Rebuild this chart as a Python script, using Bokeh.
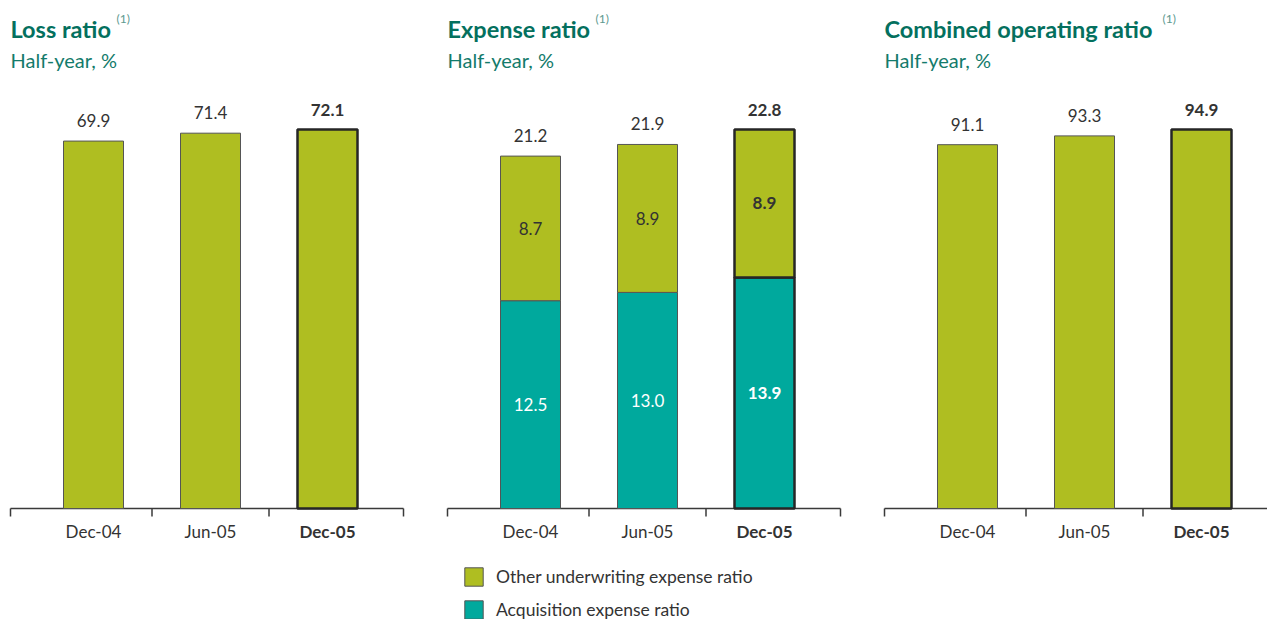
from bokeh.plotting import figure
from bokeh.models import (Range1d, ColumnDataSource, LabelSet, Label, Legend, LegendItem)
from bokeh.core.properties import value
from bokeh.layouts import row
from bokeh.embed import file_html
from bokeh.resources import INLINE

# ---------------- data ----------------
periods = ["Dec-04", "Jun-05", "Dec-05"]
loss_ratio = [69.9, 71.4, 72.1]
acquisition_ratio = [12.5, 13.0, 13.9]
other_uw_ratio = [8.7, 8.9, 8.9]
expense_ratio = [21.2, 21.9, 22.8]
combined_ratio = [91.1, 93.3, 94.9]
titles = ["Loss ratio", "Expense ratio", "Combined operating ratio"]
subtitle = "Half-year, %"
footnote = "(1)"
legend_labels = ["Other underwriting expense ratio", "Acquisition expense ratio"]

# ---------------- style ----------------
FONT = "Lato"
GREEN = "#AFBE21"
TEAL = "#00A99D"
TITLE_C = "#04705E"
SUB_C = "#137B6B"
NOTE_C = "#5E9A90"
TXT = "#333333"
AX_C = "#3a3a3a"
H = 619
BASE = 508            # page y of the zero line
BAND = 117.0          # px per category
AX_LEFT = 10.0        # px from figure left to axis start
LEFT_PAD = 83.0       # px from axis start to first bar centre
RIGHT_PAD = 76.0      # px from last bar centre to axis end
BAR_W = 60.0 / BAND
TOP_PX = 379.0        # px height of the tallest bar
TXT_SHIFT = 9         # correction for screen-unit labels

n = len(periods)
xs = list(range(n))
styles = ["normal"] * (n - 1) + ["bold"]
line_cols = ["#555555"] * (n - 1) + ["#262626"]
line_ws = [1.0] * (n - 1) + [2.5]


def make_fig(title, fig_w, vmax, note_dx):
    ppu = TOP_PX / vmax
    x0 = -(AX_LEFT + LEFT_PAD) / BAND
    x1 = x0 + fig_w / BAND
    p = figure(width=fig_w, height=H,
               x_range=Range1d(x0, x1),
               y_range=Range1d(-(H - BASE) / ppu, BASE / ppu),
               output_backend="svg", toolbar_location=None,
               x_axis_location=None, y_axis_location=None,
               min_border=0)
    p.outline_line_color = None
    p.grid.visible = False
    p.background_fill_color = "white"
    p.border_fill_color = "white"

    # category axis: base line and boundary ticks
    ax0 = -LEFT_PAD / BAND
    ax1 = (n - 1) + RIGHT_PAD / BAND
    p.segment(x0=[ax0], y0=[0], x1=[ax1], y1=[0], line_color=AX_C, line_width=1.5)
    tick_x = [ax0] + [i + 0.5 for i in range(n - 1)] + [ax1]
    p.segment(x0=tick_x, y0=[0] * len(tick_x), x1=tick_x,
              y1=[-8 / ppu] * len(tick_x), line_color=AX_C, line_width=1.5)

    cat_src = ColumnDataSource(dict(x=xs, zero=[0] * n, lab=periods, style=styles))
    p.add_layout(LabelSet(x="x", y="zero", text="lab", source=cat_src, y_offset=-23,
                          text_align="center", text_baseline="middle",
                          text_font=value(FONT), text_font_size=value("17px"),
                          text_font_style="style", text_color=value(TXT)))

    p.add_layout(Label(x=AX_LEFT, y=H - 37 + TXT_SHIFT, x_units="screen", y_units="screen",
                       text=title, text_font=FONT, text_font_size="23.5px",
                       text_font_style="bold",
                       text_color=TITLE_C, text_baseline="alphabetic"))
    p.add_layout(Label(x=note_dx, y=H - 27 + TXT_SHIFT, x_units="screen", y_units="screen",
                       text=footnote, text_font=FONT, text_font_size="12px",
                       text_color=NOTE_C, text_baseline="alphabetic"))
    p.add_layout(Label(x=AX_LEFT, y=H - 68 + TXT_SHIFT, x_units="screen", y_units="screen",
                       text=subtitle, text_font=FONT, text_font_size="20px",
                       text_color=SUB_C, text_baseline="alphabetic"))
    return p


def add_totals(p, vals):
    src = ColumnDataSource(dict(x=xs, top=vals, lab=["%.1f" % v for v in vals],
                                style=styles))
    p.add_layout(LabelSet(x="x", y="top", text="lab", source=src, y_offset=14,
                          text_align="center", text_baseline="alphabetic",
                          text_font=value(FONT), text_font_size=value("17px"),
                          text_font_style="style", text_color=value(TXT)))


# ---- panel 1: loss ratio
p1 = make_fig(titles[0], 437, max(loss_ratio), 116)
s1 = ColumnDataSource(dict(x=xs, top=loss_ratio, lc=line_cols, lw=line_ws))
p1.vbar(x="x", top="top", bottom=0, width=BAR_W, source=s1,
        fill_color=GREEN, line_color="lc", line_width="lw")
add_totals(p1, loss_ratio)

# ---- panel 2: expense ratio (stacked)
p2 = make_fig(titles[1], 437, max(expense_ratio), 158)
s2 = ColumnDataSource(dict(
    x=xs, acq=acquisition_ratio, other=other_uw_ratio, total=expense_ratio,
    acq_mid=[a / 2 for a in acquisition_ratio],
    oth_mid=[a + o / 2 for a, o in zip(acquisition_ratio, other_uw_ratio)],
    acq_lab=["%.1f" % v for v in acquisition_ratio],
    oth_lab=["%.1f" % v for v in other_uw_ratio],
    lc=line_cols, lw=line_ws, style=styles))
r_acq = p2.vbar(x="x", top="acq", bottom=0, width=BAR_W, source=s2,
                fill_color=TEAL, line_color="lc", line_width="lw")
r_oth = p2.vbar(x="x", top="total", bottom="acq", width=BAR_W, source=s2,
                fill_color=GREEN, line_color="lc", line_width="lw")
add_totals(p2, expense_ratio)
p2.add_layout(LabelSet(x="x", y="acq_mid", text="acq_lab", source=s2,
                       text_align="center", text_baseline="middle",
                       text_font=value(FONT), text_font_size=value("17px"),
                       text_font_style="style", text_color=value("white")))
p2.add_layout(LabelSet(x="x", y="oth_mid", text="oth_lab", source=s2,
                       text_align="center", text_baseline="middle",
                       text_font=value(FONT), text_font_size=value("17px"),
                       text_font_style="style", text_color=value(TXT)))
leg = Legend(items=[LegendItem(label=legend_labels[0], renderers=[r_oth], index=0),
                    LegendItem(label=legend_labels[1], renderers=[r_acq], index=0)],
             location=(25, -2), orientation="vertical",
             glyph_width=23, glyph_height=23, label_standoff=11, spacing=10,
             padding=0, margin=0, border_line_color=None,
             background_fill_alpha=0,
             label_text_font=FONT, label_text_font_size="17.5px",
             label_text_color=TXT, label_height=23)
p2.add_layout(leg, "center")

# ---- panel 3: combined ratio
p3 = make_fig(titles[2], 393, max(combined_ratio), 288)
s3 = ColumnDataSource(dict(x=xs, top=combined_ratio, lc=line_cols, lw=line_ws))
p3.vbar(x="x", top="top", bottom=0, width=BAR_W, source=s3,
        fill_color=GREEN, line_color="lc", line_width="lw")
add_totals(p3, combined_ratio)

layout = row(p1, p2, p3)
open("out.html", "w").write(file_html(layout, INLINE))
